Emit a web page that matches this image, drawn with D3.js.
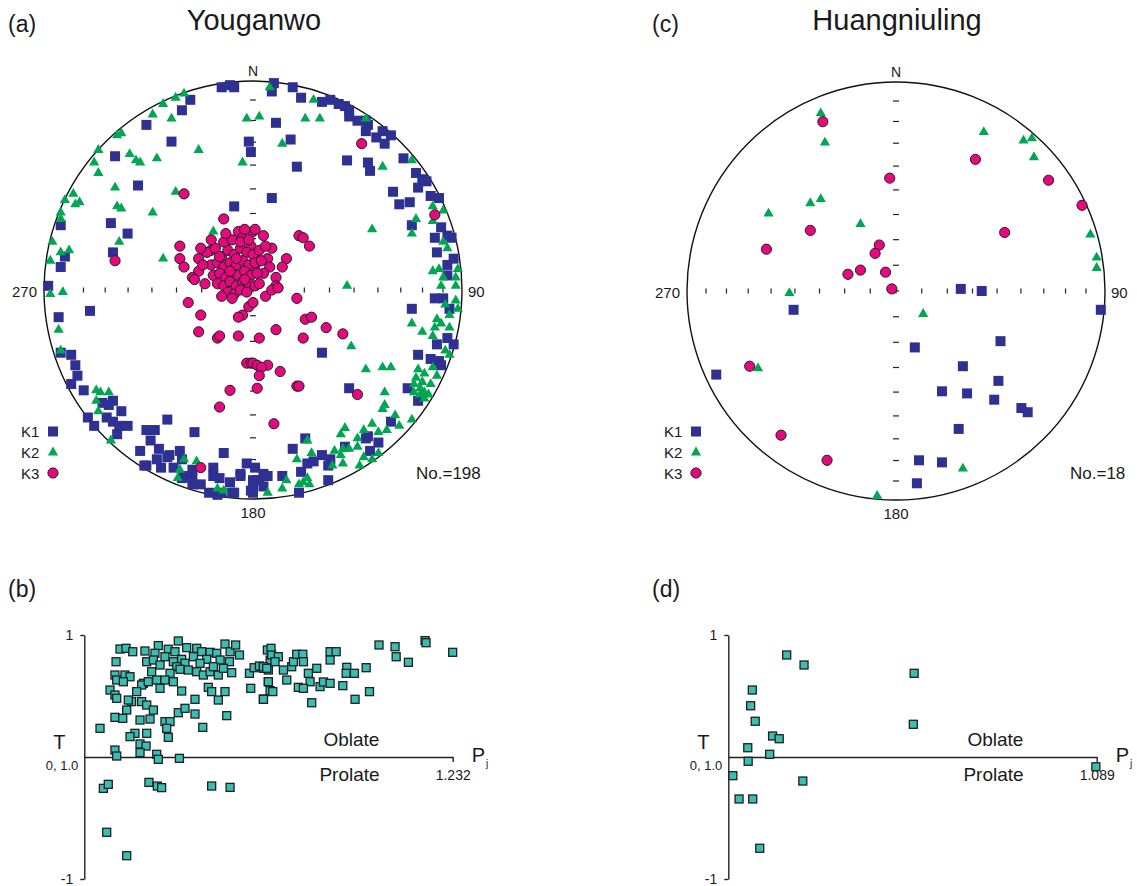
<!DOCTYPE html>
<html>
<head>
<meta charset="utf-8">
<script src="https://cdn.jsdelivr.net/npm/d3@7"></script>
<style>
  body { margin: 0; background: #fff; }
  svg text { font-family: "Liberation Sans", Arial, Helvetica, sans-serif; fill: #1a1a1a; }
</style>
</head>
<body>
<svg id="fig" width="1137" height="886"></svg>
<script>
// ---------------------------------------------------------------------------
// AMS principal axes, equal-area lower-hemisphere projection.
// Each entry is [east, north] in percent of the net radius.
// ---------------------------------------------------------------------------
const youganwoK1 = [
  [-15,97],[-11,98],[-9,97],[-30,91],[-34,86],[-51,79],[-39,71],[-2,71],[-1,66],[-66,64],[-55,50],[-9,40],[-92,31],[-68,32],[-60,27],[-67,18],[-90,16],[-92,11],[-98,2],
  [10,99],[9,95],[19,97],[23,92],[33,90],[37,91],[41,89],[44,88],[46,86],[46,83],[50,81],[54,81],[55,79],[54,76],[59,73],[62,76],[66,74],[63,70],[11,80],[18,72],[21,59],[45,62],[55,61],[56,57],[72,63],[78,56],[81,53],[83,52],[79,49],[67,47],[70,41],[75,42],[85,45],[89,44],[9,44],[76,31],[90,30],[93,26],[95,25],[87,25],[88,18],[96,15],[93,12],[93,7],
  [-78,-10],[-93,-13],[-92,-30],[-87,-31],[-85,-36],[-84,-41],[-87,-45],[-81,-48],[-72,-54],[-67,-53],[-69,-55],[-63,-58],[-79,-61],[-76,-65],[-70,-61],[-67,-63],[-64,-65],[-60,-65],[-65,-69],[-41,-62],[-51,-67],[-47,-67],[-28,-68],[-49,-72],[-54,-77],[-45,-76],[-46,-81],[-51,-84],[-44,-85],[-40,-79],[-35,-77],[-34,-81],[-38,-85],[-14,-78],[-33,-89],[-29,-90],[-25,-93],[-19,-85],[-16,-90],[-11,-92],[-6,-89],[-3,-83],[0,-91],[-29,-93],[-21,-97],[-15,-97],[-10,-97],[-1,-96],
  [87,-4],[91,-4],[94,-9],[76,-9],[93,-23],[88,-26],[96,-26],[79,-31],[85,-33],[89,-34],[90,-36],[33,-30],[74,-47],[79,-53],[46,-47],[66,-63],[25,-71],[55,-70],[54,-71],[60,-73],[56,-77],[44,-75],[19,-76],[33,-79],[37,-81],[29,-82],[26,-83],[36,-84],[23,-87],[14,-89],[1,-85],[7,-89],[3,-91],[5,-94],[0,-94],[36,-91],[22,-97],[0,-97],
  [-19,-89],[-6,-88],[2,-91],[-9,-97],[-17,-98],[5,-88],[-29,-86],[-34,-90],[-41,-80],[-52,-84]
];
const youganwoK2 = [
  [-33,94],[-37,92],[-43,89],[-48,84],[-39,82],[-3,82],[-65,74],[-63,75],[-26,67],[-74,67],[-59,65],[-56,62],[-54,61],[-46,63],[-5,61],[-76,61],[-74,56],[-66,49],[-37,47],[-86,46],[-90,43],[-85,41],[-83,42],[-65,40],[-63,39],[-48,37],[-92,37],[-92,34],[-19,28],[-64,23],[-96,23],[-88,19],[-92,18],[-43,15],[-97,14],[-91,-1],[-97,-2],
  [8,97],[29,91],[3,83],[25,82],[32,82],[14,70],[54,82],[62,59],[76,62],[86,40],[91,38],[78,34],[86,33],[57,29],[76,27],[93,20],[91,23],[86,9],[89,10],[98,10],[91,6],[97,6],[90,2],[97,2],[45,2],
  [-93,-19],[-92,-29],[-75,-48],[-73,-49],[-69,-49],[-75,-53],[-74,-58],[-68,-72],[-33,-81],[-27,-82],[-35,-86],[-36,-90],[-17,-95],[-14,-96],
  [92,-7],[98,-9],[94,-12],[97,-5],[76,-16],[81,-20],[88,-14],[90,-16],[94,-18],[87,-18],[86,-22],[47,-27],[54,-38],[62,-37],[66,-37],[94,-31],[92,-29],[79,-38],[82,-40],[86,-37],[88,-41],[78,-42],[81,-44],[85,-45],[77,-45],[80,-47],[82,-49],[84,-50],[80,-50],[77,-49],[82,-52],[63,-49],[63,-55],[62,-57],[68,-60],[70,-65],[64,-67],[76,-62],[57,-64],[60,-68],[53,-67],[50,-71],[44,-66],[42,-69],[43,-76],[46,-76],[50,-75],[53,-80],[51,-84],[60,-78],[57,-81],[39,-77],[42,-79],[43,-83],[38,-84],[21,-81],[28,-78],[26,-90],[24,-92],[22,-93],[16,-91],[14,-95],[7,-97],[27,-93],[26,-72]
];
const youganwoK3 = [
  [-33,46],[-66,14],[-14,34],[-35,21],[-35,15],[-33,11],[-26,15],[-26,9],[-29,6],[-28,5],[-20,19],[-13,23],[-7,28],[-5,25],[0,28],[-1,21],
  [52,70],[87,36],[1,29],[5,26],[22,26],[24,25],[27,21],[9,20],[7,15],[16,15],[14,11],[11,6],[11,2],[8,11],[1,16],[1,12],[5,8],
  [-31,-6],[-25,-12],[-26,-20],[-17,-23],[-16,-22],[-7,-22],[-5,-12],[-7,-13],[-2,-8],[-3,-35],[-1,-35],[-11,-48],[-16,-56],[-25,-85],
  [21,-4],[25,-14],[28,-13],[35,-18],[43,-21],[11,-19],[24,-23],[3,-23],[0,-35],[2,-36],[7,-36],[4,-37],[13,-39],[3,-41],[2,-47],[21,-46],[22,-46],[50,-50],[10,-64],[6,-3],[9,0],[12,1],[0,-6],
  [-22,18],[-18,20],[-15,16],[-12,19],[-9,17],[-6,20],[-3,18],[0,17],[3,19],[-20,12],[-17,13],[-14,11],[-11,13],[-8,12],[-5,14],[-2,12],[1,13],[4,14],
  [-19,7],[-16,8],[-13,6],[-10,8],[-7,7],[-4,9],[-1,7],[2,8],[-17,3],[-14,2],[-11,4],[-8,2],[-5,4],[-2,3],[1,2],[-12,-1],[-9,-2],[-6,0],[-3,-1],
  [-14,23],[-10,24],[-6,23],[-2,24],[-20,24],[-24,12],[-23,3],[-10,-4],[-15,-3],[-8,15],[-11,9],[-4,5],[3,3],[-16,16],[-13,27],[-4,29],[6,21],[-25,20]
];

const huangniulingK1 = [
  [31,1],[41,0],[-49,-9],[98,-9],[9,-27],[50,-24],[32,-36],[49,-43],[22,-48],[34,-49],[47,-52],[60,-56],[63,-58],[30,-66],[11,-81],[22,-82],[10,-92],[-86,-40]
];
const huangniulingK2 = [
  [-36,85],[-34,71],[-36,44],[-41,42],[-61,37],[-17,32],[-51,-1],[42,76],[61,72],[65,73],[66,64],[93,27],[96,16],[96,11],[13,-11],[-66,-37],[32,-85],[-9,-98]
];
const huangniulingK3 = [
  [-35,81],[-3,54],[-41,29],[-62,20],[-8,22],[-10,18],[-23,8],[-17,10],[-5,9],[-2,1],[38,63],[73,53],[89,41],[52,28],[-70,-36],[-55,-69],[-33,-81]
];

// Shape parameter T against corrected anisotropy degree Pj, [Pj, T].
const youganwoPjT = [
  [1.0225,0.885],[1.0263,0.891],[1.0305,0.863],[1.0382,0.869],[1.0466,0.913],[1.0445,0.850],[1.0529,0.883],[1.0592,0.951],[1.0571,0.863],[1.0645,0.896],[1.0708,0.891],[1.0739,0.863],[1.0792,0.858],[1.0834,0.850],[1.0886,0.926],[1.0918,0.863],[1.0953,0.918],[1.0977,0.836],
  [1.0200,0.781],[1.0393,0.781],[1.0435,0.795],[1.0508,0.822],[1.0561,0.781],[1.0613,0.801],[1.0687,0.822],[1.0771,0.801],[1.0855,0.795],[1.0914,0.781],[1.0729,0.768],[1.0634,0.768],[1.0582,0.740],[1.0477,0.754],[1.0424,0.699],[1.0540,0.686],[1.0603,0.719],[1.0655,0.713],[1.0708,0.699],[1.0750,0.672],[1.0792,0.699],[1.0844,0.672],[1.0928,0.691],[1.0813,0.740],[1.0876,0.727],
  [1.0193,0.672],[1.0204,0.631],[1.0256,0.672],[1.0288,0.658],[1.0246,0.617],[1.0372,0.604],[1.0361,0.590],[1.0403,0.617],[1.0456,0.631],[1.0508,0.631],[1.0561,0.617],[1.0477,0.563],[1.0613,0.541],[1.0330,0.536],[1.0298,0.454],[1.0361,0.454],[1.0162,0.549],[1.0193,0.508],[1.0204,0.481],[1.0277,0.467],[1.0393,0.426],[1.0435,0.385],[1.0267,0.385],[1.0193,0.325],[1.0242,0.317],[1.0351,0.303],[1.0414,0.311],[1.0099,0.235],[1.0319,0.194],[1.0288,0.167],[1.0393,0.194],[1.0508,0.290],[1.0540,0.290],[1.0519,0.235],[1.0529,0.161],[1.0592,0.363],[1.0634,0.399],[1.0697,0.473],[1.0697,0.352],[1.0746,0.243],[1.0781,0.571],[1.0802,0.536],[1.0844,0.467],[1.0886,0.536],[1.0897,0.339],[1.0351,0.107],[1.0389,0.090],[1.0193,0.057],[1.0204,0.008],[1.0351,0.036],[1.0456,0.022],[1.0466,-0.019],[1.0599,-0.011],
  [1.0120,-0.257],[1.0151,-0.224],[1.0407,-0.208],[1.0460,-0.238],[1.0487,-0.251],[1.0802,-0.238],[1.0918,-0.249],[1.0141,-0.617],[1.0267,-0.809],
  [1.1040,0.686],[1.1069,0.732],[1.1103,0.746],[1.1128,0.727],[1.1159,0.713],[1.1159,0.617],[1.1170,0.544],[1.1128,0.475],[1.1048,0.563],[1.1153,0.877],[1.1170,0.795],
  [1.1176,0.891],[1.1180,0.836],[1.1222,0.822],[1.1128,0.740],[1.1149,0.727],[1.1201,0.781],[1.1254,0.713],[1.1306,0.740],[1.1317,0.781],[1.1338,0.842],[1.1376,0.842],[1.1380,0.781],[1.1411,0.686],[1.1464,0.727],[1.1422,0.617],[1.1348,0.571],[1.1380,0.563],[1.1275,0.631],[1.1159,0.617],[1.1187,0.536],[1.1128,0.473],[1.1432,0.445],[1.1485,0.577],[1.1506,0.615],[1.1548,0.604],[1.1628,0.585],[1.1548,0.863],[1.1586,0.863],[1.1548,0.795],[1.1653,0.735],[1.1649,0.686],[1.1701,0.686],[1.1775,0.732],[1.1705,0.473],[1.1796,0.536],[1.1856,0.918],[1.1957,0.904],[1.1964,0.822],[1.2041,0.776],[1.2146,0.954],[1.2152,0.937],[1.2320,0.858]
];
const huangniulingPjT = [
  [1.0141,0.836],[1.0183,0.754],[1.0449,0.686],[1.0058,0.549],[1.0054,0.420],[1.0065,0.293],[1.0447,0.268],[1.0107,0.172],[1.0123,0.150],[1.0047,0.076],[1.0100,0.022],[1.0048,-0.035],[1.0011,-0.153],[1.0180,-0.197],[1.0026,-0.344],[1.0059,-0.344],[1.0076,-0.748],[1.0888,-0.080]
];

const plungeTicks = [10, 20, 30, 40, 50, 60, 70, 80];
const tTicks = [-1, 1];
const tTickLabels = ["-1", "1"];
const legendLabels = ["K1", "K2", "K3"];

// ---------------------------------------------------------------------------
const COL_K1 = "#2e3192", COL_K2 = "#00a651", COL_K3 = "#e5087e", COL_SQ = "#3bbdb3";
const svg = d3.select("#fig");
const R = 209;
const triPath = d3.symbol(d3.symbolTriangle, 45)();

function drawSquares(g, pts, x, y, size, fill, stroke, sw) {
  g.selectAll(null).data(pts).join("rect")
    .attr("x", d => x(d[0]) - size / 2).attr("y", d => y(d[1]) - size / 2)
    .attr("width", size).attr("height", size)
    .attr("fill", fill).attr("stroke", stroke).attr("stroke-width", sw);
}
function drawTriangles(g, pts, x, y) {
  g.selectAll(null).data(pts).join("path")
    .attr("d", triPath)
    .attr("transform", d => `translate(${x(d[0])},${y(d[1])})`)
    .attr("fill", COL_K2);
}
function drawCircles(g, pts, x, y) {
  g.selectAll(null).data(pts).join("circle")
    .attr("cx", d => x(d[0])).attr("cy", d => y(d[1])).attr("r", 5.1)
    .attr("fill", COL_K3).attr("stroke", "#231f20").attr("stroke-width", 1);
}

function stereonet(cfg) {
  const { cx, cy, k1, k2, k3, count, countX, legendX } = cfg;
  const g = svg.append("g");
  const x = d3.scaleLinear().domain([-100, 100]).range([cx - R, cx + R]);
  const y = d3.scaleLinear().domain([-100, 100]).range([cy + R, cy - R]);
  // equal-area radius (percent) of each plunge value
  const rr = p => Math.SQRT2 * Math.sin((90 - p) / 2 * Math.PI / 180) * 100;

  g.append("circle").attr("cx", cx).attr("cy", cy).attr("r", R)
    .attr("fill", "none").attr("stroke", "#111").attr("stroke-width", 1.4);

  const ticks = g.append("g").attr("stroke", "#222").attr("stroke-width", 1.2);
  plungeTicks.forEach(p => {
    [1, -1].forEach(s => {
      ticks.append("line").attr("x1", x(s * rr(p))).attr("x2", x(s * rr(p)))
        .attr("y1", cy - 2.5).attr("y2", cy + 2.5);
      ticks.append("line").attr("x1", cx - 3).attr("x2", cx + 3)
        .attr("y1", y(s * rr(p))).attr("y2", y(s * rr(p)));
    });
  });
  ticks.append("line").attr("x1", cx - 3).attr("x2", cx + 3).attr("y1", cy).attr("y2", cy);
  ticks.append("line").attr("x1", cx).attr("x2", cx).attr("y1", cy - 2.5).attr("y2", cy + 2.5);

  g.append("text").attr("x", cx).attr("y", cy - R - 5).attr("text-anchor", "middle")
    .attr("font-size", 14).text("N");
  g.append("text").attr("x", cx - R - 7).attr("y", cy + 7).attr("text-anchor", "end")
    .attr("font-size", 15).text("270");
  g.append("text").attr("x", cx + R + 6).attr("y", cy + 7).attr("text-anchor", "start")
    .attr("font-size", 15).text("90");
  g.append("text").attr("x", cx).attr("y", cy + R + 19).attr("text-anchor", "middle")
    .attr("font-size", 15).text("180");

  const marks = g.append("g");
  drawSquares(marks, k1, x, y, 10, COL_K1, "none", 0);
  drawTriangles(marks, k2, x, y);
  drawCircles(marks, k3, x, y);

  // legend
  const lg = g.append("g");
  const rows = [431.5, 452.5, 473];
  legendLabels.forEach((t, i) => {
    lg.append("text").attr("x", legendX).attr("y", rows[i] + 5.5).attr("font-size", 15).text(t);
  });
  const lx = d3.scaleLinear().domain([0, 1]).range([legendX + 32, legendX + 33]);
  const ly = d3.scaleLinear().domain([0, 1]).range([0, 1]);
  drawSquares(lg, [[0, rows[0]]], lx, ly, 10, COL_K1, "none", 0);
  drawTriangles(lg, [[0, rows[1]]], lx, ly);
  drawCircles(lg, [[0, rows[2]]], lx, ly);

  g.append("text").attr("x", countX).attr("y", 479).attr("font-size", 17).text("No.=" + count);
}

function tpjPanel(cfg) {
  const { x0, x1, pjMax, data } = cfg;
  const g = svg.append("g");
  const x = d3.scaleLinear().domain([1, pjMax]).range([x0, x1]);
  const y = d3.scaleLinear().domain([-1, 1]).range([879, 635]);

  const ay = g.append("g").attr("transform", `translate(${x0},0)`)
    .call(d3.axisLeft(y).tickValues(tTicks).tickFormat((d, i) => tTickLabels[i])
      .tickSize(4).tickSizeOuter(0).tickPadding(7));
  const ax = g.append("g").attr("transform", `translate(0,${y(0)})`)
    .call(d3.axisBottom(x).tickValues([pjMax]).tickFormat(d3.format(".3f"))
      .tickSize(5).tickSizeOuter(0).tickPadding(8));
  [ay, ax].forEach(a => {
    a.attr("font-family", null).attr("font-size", 14);
    a.selectAll("path, line").attr("stroke", "#222").attr("stroke-width", 1.4);
    a.selectAll("text").attr("fill", "#1a1a1a");
  });

  const span = x1 - x0;
  g.append("text").attr("x", x0 + 0.725 * span).attr("y", 746).attr("text-anchor", "middle")
    .attr("font-size", 19).text("Oblate");
  g.append("text").attr("x", x0 + 0.72 * span).attr("y", 781).attr("text-anchor", "middle")
    .attr("font-size", 19).text("Prolate");
  g.append("text").attr("x", x0 - 25).attr("y", 749).attr("text-anchor", "middle")
    .attr("font-size", 20).text("T");
  g.append("text").attr("x", x0 - 6).attr("y", 770).attr("text-anchor", "end")
    .attr("font-size", 13).text("0, 1.0");
  const pj = g.append("text").attr("x", x1 + 19).attr("y", 762).attr("font-size", 20);
  pj.append("tspan").text("P");
  pj.append("tspan").attr("font-size", 10).attr("dy", 5).attr("dx", 1).text("j");

  drawSquares(g.append("g"), data, x, y, 8, COL_SQ, "#1f1f1f", 1.3);
}

// titles and panel letters
svg.append("text").attr("x", 254).attr("y", 30).attr("text-anchor", "middle").attr("font-size", 29).text("Youganwo");
svg.append("text").attr("x", 897).attr("y", 30).attr("text-anchor", "middle").attr("font-size", 29).text("Huangniuling");
[["(a)", 8, 32], ["(c)", 652, 32], ["(b)", 8, 597], ["(d)", 652, 597]].forEach(([t, px, py]) => {
  svg.append("text").attr("x", px).attr("y", py).attr("font-size", 23).text(t);
});

stereonet({ cx: 253, cy: 290, k1: youganwoK1, k2: youganwoK2, k3: youganwoK3, count: 198, countX: 416, legendX: 21 });
stereonet({ cx: 896, cy: 291, k1: huangniulingK1, k2: huangniulingK2, k3: huangniulingK3, count: 18, countX: 1070, legendX: 664 });
tpjPanel({ x0: 84.3, x1: 452.7, pjMax: 1.232, data: youganwoPjT });
tpjPanel({ x0: 728.3, x1: 1096.7, pjMax: 1.089, data: huangniulingPjT });
</script>
</body>
</html>
